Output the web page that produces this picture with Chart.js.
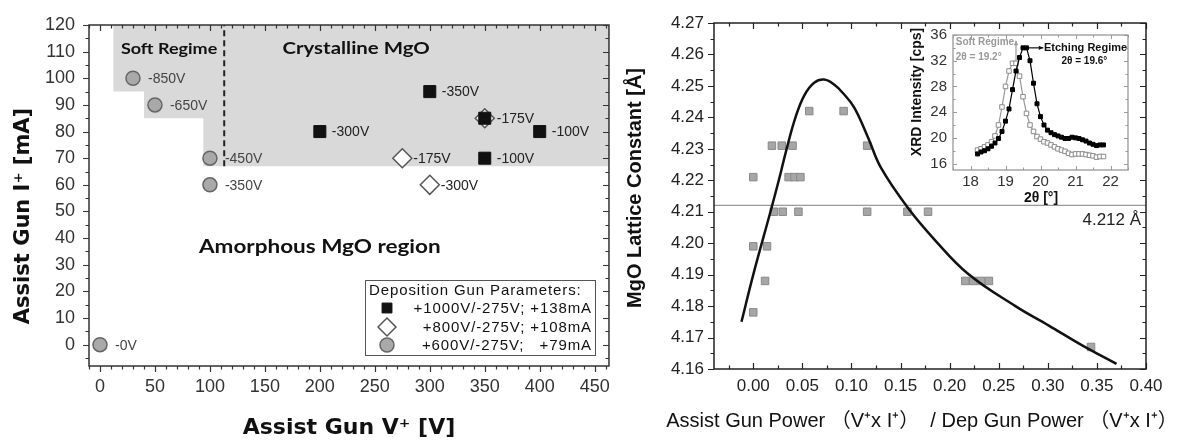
<!DOCTYPE html>
<html><head><meta charset="utf-8">
<script src="https://cdn.jsdelivr.net/npm/chart.js@4/dist/chart.umd.min.js"></script>
<style>
html,body{margin:0;padding:0;background:#fff;width:1193px;height:442px;overflow:hidden}
canvas{position:absolute}
#c1{left:0;top:0}
#c2{left:580px;top:0}
#c3{left:900px;top:20px}
</style></head><body>
<canvas id="c1" width="620" height="442"></canvas>
<canvas id="c2" width="613" height="442"></canvas>
<canvas id="c3" width="240" height="190"></canvas>
<script>
// ===== Left panel: assist gun operating points =====
const sqV = [200, 300, 350, 400, 350];            // +1000V/-275V; +138mA
const sqI = [80, 95, 85, 80, 70];
const sqLbl = ['-300V', '-350V', '-175V', '-100V', '-100V'];
const diV = [275, 300, 350];                      // +800V/-275V; +108mA
const diI = [70, 60, 85];
const diLbl = ['-175V', '-300V', ''];
const ciV = [30, 50, 100, 100, 0];                // +600V/-275V; +79mA
const ciI = [100, 90, 70, 60, 0];
const ciLbl = ['-850V', '-650V', '-450V', '-350V', '-0V'];
const legendNames = ['+1000V/-275V; +138mA', '+800V/-275V; +108mA', '+600V/-275V;   +79mA'];
const regionV = [12, 40, 94, 463];                // lower edge of crystalline region (steps)
const regionI = [95, 85, 67, 67];
const boundV = [113, 113];                        // soft / etching boundary
const boundI = [67, 120];
const leftXTicks = [0, 50, 100, 150, 200, 250, 300, 350, 400, 450];
const leftYTicks = [0, 10, 20, 30, 40, 50, 60, 70, 80, 90, 100, 110, 120];

// ===== Right panel: lattice constant vs power ratio =====
const ratioX = [0.057, 0.092, 0.019, 0.029, 0.040, 0.116, 0.000, 0.036, 0.042, 0.048,
                0.021, 0.030, 0.046, 0.116, 0.157, 0.178, 0.000, 0.014, 0.012, 0.216,
                0.224, 0.232, 0.240, 0.000, 0.344];
const latY   = [4.242, 4.242, 4.231, 4.231, 4.231, 4.231, 4.221, 4.221, 4.221, 4.221,
                4.210, 4.210, 4.210, 4.210, 4.210, 4.210, 4.199, 4.199, 4.188, 4.188,
                4.188, 4.188, 4.188, 4.178, 4.167];
const fitX = [-0.012, 0.000, 0.0175, 0.026, 0.034, 0.043, 0.052, 0.062, 0.072, 0.082, 0.092, 0.103,
              0.117, 0.130, 0.158, 0.185, 0.219, 0.267, 0.301, 0.335, 0.370];
const fitY = [4.175, 4.190, 4.210, 4.220, 4.230, 4.240, 4.247, 4.251, 4.252, 4.2505, 4.2475, 4.2430,
              4.2335, 4.2240, 4.2110, 4.2010, 4.1902, 4.1800, 4.1738, 4.1675, 4.1616];
const bulkLattice = 4.212;
const ratioTicks = [0.00, 0.05, 0.10, 0.15, 0.20, 0.25, 0.30, 0.35, 0.40];
const latTicks = [4.16, 4.17, 4.18, 4.19, 4.20, 4.21, 4.22, 4.23, 4.24, 4.25, 4.26, 4.27];

// ===== Inset: XRD scans =====
const twoTheta = [18.2, 18.3, 18.4, 18.5, 18.6, 18.7, 18.8, 18.9, 19.0, 19.1, 19.2, 19.3, 19.4,
                  19.5, 19.6, 19.7, 19.8, 19.9, 20.0, 20.1, 20.2, 20.3, 20.4, 20.5, 20.6, 20.7,
                  20.8, 20.9, 21.0, 21.1, 21.2, 21.3, 21.4, 21.5, 21.6, 21.7, 21.8];
const etchCps = [17.5, 17.8, 18.0, 18.3, 18.7, 19.2, 19.9, 21.0, 22.6, 24.5, 27.5, 30.4, 32.5,
                 34.0, 34.0, 32.0, 28.5, 25.3, 23.3, 22.0, 21.2, 20.8, 20.5, 20.3, 20.1, 19.9,
                 19.9, 20.1, 20.0, 19.9, 19.7, 19.5, 19.2, 19.0, 18.8, 18.9, 18.9];
const softCps = [18.1, 18.3, 18.6, 18.9, 19.4, 20.3, 22.0, 24.8, 28.0, 30.4, 31.6, 31.6, 29.6,
                 26.4, 23.8, 22.0, 21.0, 20.2, 19.8, 19.4, 19.2, 18.9, 18.6, 18.3, 18.1, 17.9,
                 17.6, 17.4, 17.5, 17.5, 17.5, 17.4, 17.3, 17.2, 17.0, 17.1, 17.1];
const thetaTicks = [18, 19, 20, 21, 22];
const cpsTicks = [16, 20, 24, 28, 32, 36];

// ===== helpers / plugins =====
const pts = (xs, ys) => xs.map((v, i) => ({x: v, y: ys[i]}));
const fixTicks = arr => s => { s.ticks = arr.map(v => ({value: v})); };

const frameTicks = {
  id: 'frameTicks',
  afterDatasetsDraw(chart, args, o) {
    const {ctx, chartArea: ca, scales} = chart;
    const xs = scales.x, ys = scales.y;
    ctx.save();
    ctx.strokeStyle = o.color; ctx.lineWidth = o.tickWidth;
    const each = (sc, step, fn) => {
      for (let k = Math.ceil(sc.min / step - 1e-6); k * step <= sc.max + 1e-9; k++) fn(k * step);
    };
    const isMaj = (v, m) => Math.abs(v / m - Math.round(v / m)) < 1e-6;
    each(xs, o.xMinor, v => {
      const p = Math.round(xs.getPixelForValue(v)) + 0.5;
      const L = isMaj(v, o.xMajor) ? o.len : o.minorLen;
      ctx.beginPath();
      ctx.moveTo(p, ca.bottom); ctx.lineTo(p, ca.bottom + (o.out.bottom ? L : -L));
      ctx.moveTo(p, ca.top); ctx.lineTo(p, ca.top + (o.out.top ? -L : L));
      ctx.stroke();
    });
    each(ys, o.yMinor, v => {
      const p = Math.round(ys.getPixelForValue(v)) + 0.5;
      const L = isMaj(v, o.yMajor) ? o.len : o.minorLen;
      ctx.beginPath();
      ctx.moveTo(ca.left, p); ctx.lineTo(ca.left + (o.out.left ? -L : L), p);
      ctx.moveTo(ca.right, p); ctx.lineTo(ca.right + (o.out.right ? L : -L), p);
      ctx.stroke();
    });
    ctx.lineWidth = o.width;
    ctx.strokeRect(ca.left, ca.top, ca.right - ca.left, ca.bottom - ca.top);
    ctx.restore();
  }
};

const pointLabels = {
  id: 'pointLabels',
  afterDatasetsDraw(chart) {
    const ctx = chart.ctx;
    chart.data.datasets.forEach((ds, i) => {
      if (!ds.pointLabels) return;
      const meta = chart.getDatasetMeta(i);
      ctx.save();
      ctx.font = '14px "Liberation Sans", Arial, sans-serif';
      ctx.fillStyle = ds.labelColor; ctx.textBaseline = 'middle'; ctx.textAlign = 'left';
      meta.data.forEach((el, j) => { const t = ds.pointLabels[j]; if (t) ctx.fillText(t, el.x + ds.labelGap, el.y + 1); });
      ctx.restore();
    });
  }
};

// text in data coordinates (dx,dy) or canvas pixels (px,py)
const texts = {
  id: 'texts',
  afterDraw(chart, args, o) {
    const {ctx, scales} = chart;
    ctx.save();
    (o.arrows || []).forEach(a => {
      const x1 = scales.x.getPixelForValue(a.x1), y1 = scales.y.getPixelForValue(a.y1);
      const x2 = scales.x.getPixelForValue(a.x2), y2 = scales.y.getPixelForValue(a.y2);
      ctx.strokeStyle = a.color; ctx.fillStyle = a.color; ctx.lineWidth = 1.2;
      ctx.beginPath(); ctx.moveTo(x1, y1); ctx.lineTo(x2, y2); ctx.stroke();
      const ang = Math.atan2(y2 - y1, x2 - x1), h = 5;
      ctx.beginPath(); ctx.moveTo(x2, y2);
      ctx.lineTo(x2 - h * Math.cos(ang - 0.45), y2 - h * Math.sin(ang - 0.45));
      ctx.lineTo(x2 - h * Math.cos(ang + 0.45), y2 - h * Math.sin(ang + 0.45));
      ctx.closePath(); ctx.fill();
    });
    (o.items || []).forEach(t => {
      ctx.save();
      ctx.font = t.font; ctx.fillStyle = t.color || '#000';
      ctx.textAlign = t.align || 'center'; ctx.textBaseline = 'middle';
      if (t.ls) ctx.letterSpacing = t.ls;
      const x = t.dx !== undefined ? scales.x.getPixelForValue(t.dx) : t.px;
      const y = t.dy !== undefined ? scales.y.getPixelForValue(t.dy) : t.py;
      ctx.translate(x, y);
      if (t.rot) ctx.rotate(t.rot);
      if (t.sx) ctx.scale(t.sx, 1);
      ctx.fillText(t.text, 0, 0);
      ctx.restore();
    });
    ctx.restore();
  }
};

const legendBox = {
  id: 'legendBox',
  afterDraw(chart, args, o) {
    const {ctx, chartArea: ca} = chart;
    const bx = ca.left + o.x, by = ca.top + o.y, bw = o.w, bh = o.h;
    ctx.save();
    ctx.fillStyle = '#fff'; ctx.fillRect(bx, by, bw, bh);
    ctx.strokeStyle = '#555'; ctx.lineWidth = 1; ctx.strokeRect(bx + 0.5, by + 0.5, bw, bh);
    ctx.font = '15px "Liberation Sans", Arial, sans-serif'; ctx.fillStyle = '#111';
    ctx.textBaseline = 'middle'; ctx.textAlign = 'left'; ctx.letterSpacing = '0.9px';
    ctx.fillText('Deposition Gun Parameters:', bx + 4, by + 11);
    const rows = [28, 47, 65];
    chart.data.datasets.slice(0, 3).forEach((ds, i) => {
      const y = by + rows[i];
      ctx.fillStyle = ds.backgroundColor; ctx.strokeStyle = ds.borderColor; ctx.lineWidth = ds.borderWidth;
      Chart.helpers.drawPoint(ctx, {pointStyle: ds.pointStyle, radius: o.radii[i], borderWidth: ds.borderWidth, rotation: 0}, bx + 22, y);
      ctx.fillStyle = '#111';
      ctx.textAlign = 'right';
      ctx.fillText(ds.label, bx + bw - 3, y + 1);
    });
    ctx.restore();
  }
};

const whiteArea = {
  id: 'whiteArea',
  beforeDraw(chart) {
    const {ctx, chartArea: ca} = chart;
    ctx.save(); ctx.fillStyle = '#fff';
    ctx.fillRect(ca.left, ca.top, ca.right - ca.left, ca.bottom - ca.top); ctx.restore();
  }
};

const base = {responsive: false, animation: false, events: [], maintainAspectRatio: false};
const noGrid = {display: false, drawTicks: false};

// ===== Left chart =====
new Chart(document.getElementById('c1'), {
  type: 'line',
  data: {datasets: [
    {label: legendNames[0], data: pts(sqV, sqI), showLine: false, pointStyle: 'rect', pointRadius: 8.5,
     backgroundColor: '#111', borderColor: '#111', borderWidth: 1, order: 1,
     pointLabels: sqLbl, labelColor: '#222', labelGap: 12},
    {label: legendNames[1], data: pts(diV, diI), showLine: false, pointStyle: 'rectRot', pointRadius: 9.5,
     backgroundColor: '#fff', borderColor: '#555', borderWidth: 1.5, order: 2,
     pointLabels: diLbl, labelColor: '#222', labelGap: 11},
    {label: legendNames[2], data: pts(ciV, ciI), showLine: false, pointStyle: 'circle', pointRadius: 7,
     backgroundColor: '#a9a9a9', borderColor: '#666', borderWidth: 1.5, order: 3,
     pointLabels: ciLbl, labelColor: '#444', labelGap: 15},
    {data: pts(regionV, regionI), stepped: 'before', fill: 'end', backgroundColor: '#d9d9d9',
     borderWidth: 0, borderColor: 'rgba(0,0,0,0)', pointRadius: 0, order: 10},
    {data: pts(boundV, boundI), borderColor: '#222', borderWidth: 2, borderDash: [6, 4],
     pointRadius: 0, fill: false, order: 5}
  ]},
  options: {...base,
    layout: {padding: {left: 0, top: 25, right: 9, bottom: 0}},
    scales: {
      x: {type: 'linear', min: -10, max: 463, afterBuildTicks: fixTicks(leftXTicks),
          afterFit: s => { s.height = 76; },
          ticks: {font: {family: '"Liberation Sans", Arial', size: 18}, color: '#333', padding: 10, maxRotation: 0, autoSkip: false},
          grid: noGrid, border: {display: false}},
      y: {type: 'linear', min: -8, max: 120, afterBuildTicks: fixTicks(leftYTicks),
          afterFit: s => { s.width = 89; },
          ticks: {font: {family: '"Liberation Sans", Arial', size: 18}, color: '#333', padding: 14, autoSkip: false},
          grid: noGrid, border: {display: false}}
    },
    plugins: {
      legend: {display: false}, tooltip: {enabled: false},
      frameTicks: {color: '#333', width: 1.5, tickWidth: 1.2, xMajor: 50, xMinor: 10, yMajor: 10, yMinor: 5,
                   len: 6, minorLen: 3.5, out: {left: true, bottom: true, top: false, right: false}},
      legendBox: {x: 276, y: 255, w: 230, h: 75, radii: [7, 9, 7]},
      texts: {items: [
        {text: 'Soft Regime', dx: 19, dy: 111, align: 'left', font: 'bold 15px Lato', sx: 1.2, color: '#111'},
        {text: 'Crystalline MgO', dx: 166, dy: 111, align: 'left', font: 'bold 17px Lato', sx: 1.2, color: '#111'},
        {text: 'Amorphous MgO region', dx: 90, dy: 36.5, align: 'left', font: 'bold 18px Lato', sx: 1.25, color: '#111'},
        {text: 'Assist Gun I\u207A [mA]', px: 24, py: 216, rot: -Math.PI / 2, font: 'bold 21px "DejaVu Sans"', color: '#111'},
        {text: 'Assist Gun V\u207A [V]', px: 349, py: 428, font: 'bold 22px "DejaVu Sans"', color: '#111'}
      ]}
    }
  },
  plugins: [frameTicks, pointLabels, texts, legendBox]
});

// ===== Right chart =====
new Chart(document.getElementById('c2'), {
  type: 'line',
  data: {datasets: [
    {data: pts(fitX, fitY), borderColor: '#111', borderWidth: 2.5, pointRadius: 0,
     tension: 0.4, fill: false, order: 1},
    {data: pts(ratioX, latY), showLine: false, pointStyle: 'rect', pointRadius: 5.3,
     backgroundColor: '#a6a6a6', borderColor: '#8a8a8a', borderWidth: 1, order: 2},
    {data: pts([-0.04, 0.40], [bulkLattice, bulkLattice]), borderColor: '#999', borderWidth: 1.2,
     pointRadius: 0, fill: false, order: 3}
  ]},
  options: {...base,
    layout: {padding: {left: 0, top: 23, right: 47, bottom: 0}},
    scales: {
      x: {type: 'linear', min: -0.04, max: 0.40, afterBuildTicks: fixTicks(ratioTicks),
          afterFit: s => { s.height = 73; },
          ticks: {font: {family: '"Liberation Sans", Arial', size: 17}, color: '#222', padding: 7, maxRotation: 0,
                  autoSkip: false, callback: v => v.toFixed(2)},
          grid: noGrid, border: {display: false}},
      y: {type: 'linear', min: 4.16, max: 4.27, afterBuildTicks: fixTicks(latTicks),
          afterFit: s => { s.width = 134; },
          ticks: {font: {family: '"Liberation Sans", Arial', size: 17}, color: '#222', padding: 10, autoSkip: false,
                  callback: v => v.toFixed(2)},
          grid: noGrid, border: {display: false}}
    },
    plugins: {
      legend: {display: false}, tooltip: {enabled: false},
      frameTicks: {color: '#222', width: 1.5, tickWidth: 1.2, xMajor: 0.05, xMinor: 0.025, yMajor: 0.01, yMinor: 0.005,
                   len: 6, minorLen: 3.5, out: {left: true, bottom: false, top: false, right: false}},
      texts: {items: [
        {text: bulkLattice.toFixed(3) + ' \u00C5', dx: 0.395, dy: 4.2072, align: 'right', font: '17px "Liberation Sans", Arial', color: '#222'},
        {text: 'MgO Lattice Constant [\u00C5]', px: 55, py: 188, rot: -Math.PI / 2, font: 'bold 20px "Liberation Sans", Arial', color: '#111'},
        {text: 'Assist Gun Power \uFF08V\u207Ax I\u207A\uFF09  / Dep Gun Power \uFF08V\u207Ax I\u207A\uFF09', px: 342, py: 421,
         font: '20px "Liberation Sans", Arial, "Noto Sans CJK SC"', color: '#111'}
      ]}
    }
  },
  plugins: [frameTicks, texts]
});

// ===== Inset chart =====
new Chart(document.getElementById('c3'), {
  type: 'line',
  data: {datasets: [
    {data: pts(twoTheta, etchCps), borderColor: '#000', borderWidth: 1.2, pointStyle: 'rect', pointRadius: 2.8,
     backgroundColor: '#000', pointBorderColor: '#000', pointBorderWidth: 1, fill: false, tension: 0, order: 1},
    {data: pts(twoTheta, softCps), borderColor: '#999', borderWidth: 1.2, pointStyle: 'rect', pointRadius: 3.2,
     backgroundColor: '#fff', pointBackgroundColor: '#fff', pointBorderColor: '#8a8a8a', pointBorderWidth: 1, fill: false, tension: 0, order: 2}
  ]},
  options: {...base,
    layout: {padding: {left: 0, top: 12, right: 12, bottom: 0}},
    scales: {
      x: {type: 'linear', min: 17.5, max: 22.5, afterBuildTicks: fixTicks(thetaTicks),
          afterFit: s => { s.height = 40; },
          ticks: {font: {family: '"Liberation Sans", Arial', size: 15}, color: '#333', padding: 3, maxRotation: 0, autoSkip: false},
          grid: noGrid, border: {display: false}},
      y: {type: 'linear', min: 15, max: 36, afterBuildTicks: fixTicks(cpsTicks),
          afterFit: s => { s.width = 53; },
          ticks: {font: {family: '"Liberation Sans", Arial', size: 15}, color: '#333', padding: 6, autoSkip: false},
          grid: noGrid, border: {display: false}}
    },
    plugins: {
      legend: {display: false}, tooltip: {enabled: false},
      frameTicks: {color: '#999', width: 1.3, tickWidth: 1, xMajor: 1, xMinor: 0.5, yMajor: 4, yMinor: 2,
                   len: 4, minorLen: 2.5, out: {left: false, bottom: false, top: false, right: false}},
      texts: {
        arrows: [
          {x1: 19.3, y1: 31.9, x2: 19.3, y2: 35.1, color: '#999'},
          {x1: 19.65, y1: 34, x2: 20.08, y2: 34, color: '#111'}
        ],
        items: [
          {text: 'Soft Regime', dx: 17.58, dy: 34.9, align: 'left', font: 'bold 10px "Liberation Sans", Arial', color: '#999'},
          {text: '2\u03B8 = 19.2\u00B0', dx: 17.58, dy: 32.6, align: 'left', font: 'bold 10px "Liberation Sans", Arial', color: '#999'},
          {text: 'Etching Regime', dx: 20.1, dy: 34.0, align: 'left', font: 'bold 11px "Liberation Sans", Arial', color: '#111'},
          {text: '2\u03B8 = 19.6\u00B0', dx: 20.6, dy: 31.9, align: 'left', font: 'bold 10px "Liberation Sans", Arial', color: '#111'},
          {text: 'XRD Intensity [cps]', px: 17, py: 72, rot: -Math.PI / 2, font: 'bold 14px "Liberation Sans", Arial', color: '#111'},
          {text: '2\u03B8 [\u00B0]', px: 141, py: 178, font: 'bold 14px "Liberation Sans", Arial', color: '#111'}
        ]}
    }
  },
  plugins: [whiteArea, frameTicks, texts]
});
</script>
</body></html>
